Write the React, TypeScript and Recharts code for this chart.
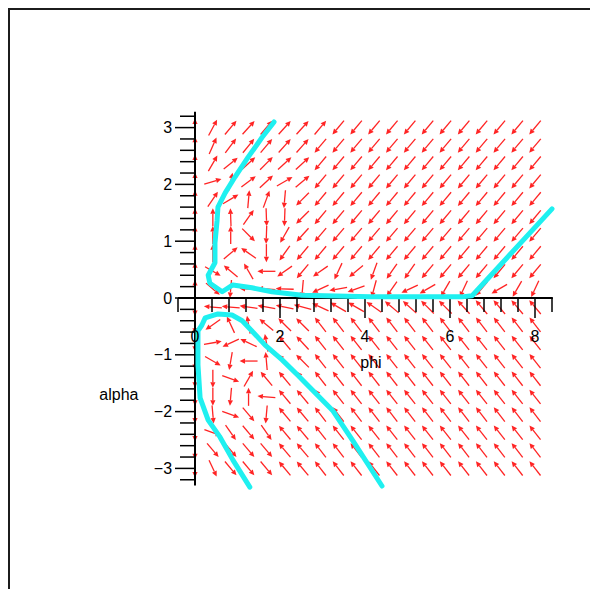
import React from 'react';
import { ScatterChart, Scatter, XAxis, YAxis } from 'recharts';

// grid of the direction field
const PHI_GRID = [0, 0.42, 0.84, 1.26, 1.68, 2.11, 2.53, 2.95, 3.37, 3.79, 4.21, 4.63, 5.05, 5.47, 5.89, 6.32, 6.74, 7.16, 7.58, 8];
const ALPHA_GRID = [3, 2.68, 2.37, 2.05, 1.74, 1.42, 1.11, 0.79, 0.47, 0.16, -0.16, -0.47, -0.79, -1.11, -1.42, -1.74, -2.05, -2.37, -2.68, -3];

// arrow directions (screen degrees, 0 = right, 90 = up), one row per alpha value
const DIR_ROWS = [
  [90, 62, 50, 48, 50, 48, 48, 50, 230, 230, 230, 230, 230, 230, 230, 230, 230, 230, 230, 230],
  [90, 66, 53, 51, 50, 48, 48, 230, 230, 230, 230, 230, 230, 230, 230, 230, 230, 230, 230, 230],
  [90, 60, 39, 42, 45, 42, 42, 230, 230, 230, 230, 230, 230, 230, 230, 230, 230, 230, 230, 230],
  [90, 17, 78, 37, 43, 30, 40, 230, 230, 230, 230, 230, 230, 230, 230, 230, 230, 230, 230, 230],
  [90, 56, 31, 85, 70, 265, 225, 230, 230, 230, 230, 230, 230, 230, 230, 230, 230, 230, 230, 230],
  [90, 90, 92, 55, 272, 268, 225, 230, 230, 230, 230, 230, 230, 230, 230, 230, 230, 230, 230, 230],
  [90, 90, 90, 315, 268, 240, 228, 230, 230, 230, 230, 230, 230, 230, 230, 230, 230, 230, 230, 230],
  [90, 90, 40, 145, 270, 235, 230, 230, 230, 230, 230, 230, 230, 230, 230, 230, 230, 230, 230, 230],
  [90, 330, 140, 120, 180, 215, 230, 215, 245, 220, 250, 235, 235, 230, 230, 230, 230, 230, 230, 230],
  [90, 320, 265, 178, 175, 178, 265, 205, 190, 200, 255, 235, 205, 210, 240, 245, 230, 210, 240, 245],
  [270, 175, 175, 172, 170, 168, 165, 155, 150, 150, 145, 140, 138, 135, 135, 132, 130, 130, 130, 130],
  [270, 215, 115, 100, 140, 135, 135, 128, 128, 128, 128, 128, 128, 128, 128, 128, 128, 128, 128, 128],
  [270, 10, 205, 155, 100, 130, 133, 128, 128, 128, 128, 128, 128, 128, 128, 128, 128, 128, 128, 128],
  [270, 330, 260, 180, 95, 135, 135, 128, 128, 128, 128, 128, 128, 128, 128, 128, 128, 128, 128, 128],
  [270, 270, 340, 60, 130, 130, 130, 128, 128, 128, 128, 128, 128, 128, 128, 128, 128, 128, 128, 128],
  [270, 270, 265, 90, 175, 130, 130, 128, 128, 128, 128, 128, 128, 128, 128, 128, 128, 128, 128, 128],
  [270, 275, 340, 310, 265, 130, 130, 128, 128, 128, 128, 128, 128, 128, 128, 128, 128, 128, 128, 128],
  [270, 340, 305, 310, 305, 130, 130, 128, 128, 128, 128, 128, 128, 128, 128, 128, 128, 128, 128, 128],
  [270, 310, 310, 310, 310, 130, 130, 128, 128, 128, 128, 128, 128, 128, 128, 128, 128, 128, 128, 128],
  [270, 295, 310, 310, 310, 130, 130, 128, 128, 128, 128, 128, 128, 128, 128, 128, 128, 128, 128, 128],
];

// solution curves (phi, alpha)
const UPPER_PHI = [8.4, 6.52, 6.28, 4.12, 2.52, 1.81, 1.34, 0.89, 0.64, 0.35, 0.31, 0.47, 0.47, 0.52, 0.54, 0.71, 0.94, 1.25, 1.58, 1.86];
const UPPER_ALPHA = [1.57, 0.04, 0.02, 0.02, 0.05, 0.11, 0.18, 0.23, 0.11, 0.26, 0.4, 0.62, 0.97, 1.37, 1.6, 1.85, 2.13, 2.48, 2.83, 3.1];
const LOWER_PHI = [4.4, 3.72, 3.25, 2.71, 2.42, 2.05, 1.65, 1.34, 1.11, 0.87, 0.54, 0.24, 0.16, 0.07, 0.07, 0.12, 0.31, 0.59, 0.89, 1.29];
const LOWER_ALPHA = [-3.31, -2.52, -1.99, -1.58, -1.36, -1.09, -0.83, -0.58, -0.4, -0.3, -0.28, -0.35, -0.48, -0.58, -1.18, -1.76, -2.15, -2.45, -2.85, -3.33];

// axes
const X_TICKS = [-0.4, 0, 0.4, 0.8, 1.2, 1.6, 2, 2.4, 2.8, 3.2, 3.6, 4, 4.4, 4.8, 5.2, 5.6, 6, 6.4, 6.8, 7.2, 7.6, 8, 8.4];
const X_LABELS = [0, 2, 4, 6, 8];
const Y_TICKS = [-3.2, -3, -2.8, -2.6, -2.4, -2.2, -2, -1.8, -1.6, -1.4, -1.2, -1, -0.8, -0.6, -0.4, -0.2, 0, 0.2, 0.4, 0.6, 0.8, 1, 1.2, 1.4, 1.6, 1.8, 2, 2.2, 2.4, 2.6, 2.8, 3, 3.2];
const Y_LABELS = [-3, -2, -1, 0, 1, 2, 3];

const FONT = '"Liberation Sans", Arial, sans-serif';
const RED = '#ff2424';
const CYAN = '#1ff0f0';

const fieldData = ALPHA_GRID.flatMap((a, j) => PHI_GRID.map((p, k) => ({ x: p, y: a, d: DIR_ROWS[j][k] })));
const upperData = UPPER_PHI.map((p, i) => ({ x: p, y: UPPER_ALPHA[i] }));
const lowerData = LOWER_PHI.map((p, i) => ({ x: p, y: LOWER_ALPHA[i] }));
const xAxisLine = [{ x: -0.4, y: 0 }, { x: 8.42, y: 0 }];
const yAxisLine = [{ x: 0, y: -3.3 }, { x: 0, y: 3.28 }];
const xTickData = X_TICKS.map((t) => ({ x: t, y: 0, major: X_LABELS.includes(t) }));
const yTickData = Y_TICKS.map((t) => ({ x: 0, y: t, major: Y_LABELS.includes(t) }));
const xLabelData = X_LABELS.map((t) => ({ x: t, y: -0.67, t: String(t) }));
const yLabelData = Y_LABELS.map((t) => ({ x: -0.54, y: t, t: t < 0 ? '\u2212' + Math.abs(t) : String(t) }));
const titleData = [
  { x: 4.14, y: -1.14, t: 'phi', anchor: 'middle' },
  { x: -1.79, y: -1.7, t: 'alpha', anchor: 'middle' },
];

const Arrow = (props: any) => {
  const { cx, cy, payload } = props;
  if (cx == null || cy == null) return <g />;
  const ang = (payload.d * Math.PI) / 180;
  const L = 18;
  const h = 5.5;
  const w = 2.6;
  const dx = Math.cos(ang);
  const dy = -Math.sin(ang);
  const x1 = cx - (dx * L) / 2;
  const y1 = cy - (dy * L) / 2;
  const x2 = cx + (dx * L) / 2;
  const y2 = cy + (dy * L) / 2;
  const bx = x2 - dx * h;
  const by = y2 - dy * h;
  const px = -dy;
  const py = dx;
  return (
    <g>
      <line x1={x1} y1={y1} x2={bx} y2={by} stroke={RED} strokeWidth={1.3} />
      <polygon points={`${x2},${y2} ${bx + px * w},${by + py * w} ${bx - px * w},${by - py * w}`} fill={RED} />
    </g>
  );
};

const XTick = (props: any) => {
  const { cx, cy, payload } = props;
  const len = payload.major ? 20 : 14;
  return <line x1={cx} y1={cy} x2={cx} y2={cy + len} stroke="#000" strokeWidth={1.5} />;
};

const YTick = (props: any) => {
  const { cx, cy, payload } = props;
  const len = payload.major ? 20 : 15;
  return <line x1={cx} y1={cy} x2={cx - len} y2={cy} stroke="#000" strokeWidth={1.5} />;
};

const makeText = (anchor: string) => (props: any) => {
  const { cx, cy, payload } = props;
  return (
    <text x={cx} y={cy} textAnchor={payload.anchor || anchor} dominantBaseline="central" fontFamily={FONT} fontSize={16} fill="#000">
      {payload.t}
    </text>
  );
};

const Nothing = () => <g />;

export default function App() {
  return (
    <div style={{ position: 'relative', width: 574, height: 573 }}>
      <style>{'html,body{overflow:hidden;}'}</style>
      <div style={{ position: 'fixed', left: 8, top: 8, width: 582, height: 2, background: '#1c1c1c' }} />
      <div style={{ position: 'fixed', left: 8, top: 8, width: 2, height: 581, background: '#1c1c1c' }} />
      <div style={{ position: 'absolute', left: 2, top: 2 }}>
        <ScatterChart width={580} height={579} margin={{ top: 60.8, right: 12.5, bottom: 63.8, left: 15 }}>
          <XAxis type="number" dataKey="x" domain={[-4, 9]} hide />
          <YAxis type="number" dataKey="y" domain={[-4, 4]} hide />
          <Scatter data={fieldData} shape={Arrow} isAnimationActive={false} />
          <Scatter data={xAxisLine} shape={Nothing} line={{ stroke: '#000', strokeWidth: 2 }} isAnimationActive={false} />
          <Scatter data={yAxisLine} shape={Nothing} line={{ stroke: '#000', strokeWidth: 2 }} isAnimationActive={false} />
          <Scatter data={xTickData} shape={XTick} isAnimationActive={false} />
          <Scatter data={yTickData} shape={YTick} isAnimationActive={false} />
          <Scatter
            data={upperData}
            shape={Nothing}
            line={{ stroke: CYAN, strokeWidth: 5, strokeLinecap: 'round', strokeLinejoin: 'round' }}
            isAnimationActive={false}
          />
          <Scatter
            data={lowerData}
            shape={Nothing}
            line={{ stroke: CYAN, strokeWidth: 5, strokeLinecap: 'round', strokeLinejoin: 'round' }}
            isAnimationActive={false}
          />
          <Scatter data={xLabelData} shape={makeText('middle')} isAnimationActive={false} />
          <Scatter data={yLabelData} shape={makeText('end')} isAnimationActive={false} />
          <Scatter data={titleData} shape={makeText('middle')} isAnimationActive={false} />
        </ScatterChart>
      </div>
    </div>
  );
}
